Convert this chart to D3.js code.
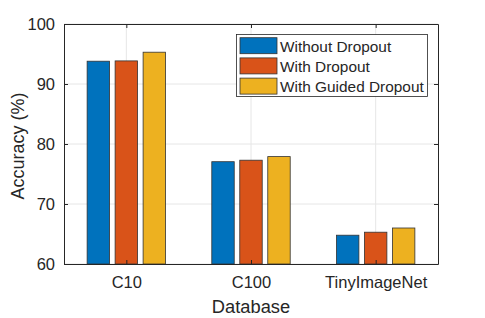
<!DOCTYPE html>
<html>
<head>
<meta charset="utf-8">
<script src="https://cdn.jsdelivr.net/npm/d3@7"></script>
<style>
  body { margin: 0; background: #fff; }
  text { font-family: "Liberation Sans", Arial, Helvetica, sans-serif; fill: #262626; }
</style>
</head>
<body>
<div id="chart"></div>
<script>
var categories = ["C10", "C100", "TinyImageNet"];
var seriesNames = ["Without Dropout", "With Dropout", "With Guided Dropout"];
var withoutDropout = [93.8, 77.05, 64.8];
var withDropout = [93.85, 77.3, 65.3];
var guidedDropout = [95.3, 77.9, 66.0];
var yTicks = [60, 70, 80, 90, 100];
var colors = ["#0072BD", "#D95319", "#EDB120"];

var series = [withoutDropout, withDropout, guidedDropout];

var W = 485, H = 318;
var axL = 64, axR = 438, axT = 24, axB = 264;

var svg = d3.select("#chart").append("svg")
  .attr("width", W).attr("height", H);

var x = d3.scaleLinear().domain([0.5, 3.5]).range([axL, axR]);
var y = d3.scaleLinear().domain([60, 100]).range([axB, axT]);

// grid
var grid = svg.append("g");
grid.selectAll(".gy").data(yTicks).enter().append("line")
  .attr("x1", axL).attr("x2", axR)
  .attr("y1", function(d){ return y(d); }).attr("y2", function(d){ return y(d); })
  .style("stroke", "#e6e6e6").style("stroke-width", 1);
grid.selectAll(".gx").data(categories).enter().append("line")
  .attr("x1", function(d,i){ return x(i+1); }).attr("x2", function(d,i){ return x(i+1); })
  .attr("y1", axT).attr("y2", axB)
  .style("stroke", "#e6e6e6").style("stroke-width", 1);

// bars
var offset = 0.2245, barW = 0.18;
series.forEach(function(vals, s) {
  svg.append("g").selectAll("rect").data(vals).enter().append("rect")
    .attr("x", function(d,i){ return x(i + 1 + (s-1)*offset - barW/2); })
    .attr("width", function(){ return x(1 + barW) - x(1); })
    .attr("y", function(d){ return y(d); })
    .attr("height", function(d){ return y(60) - y(d); })
    .style("fill", colors[s])
    .style("stroke", "#333").style("stroke-width", 0.8);
});

// axes box
var yAxis = d3.axisLeft(y).tickValues(yTicks).tickSizeInner(-4).tickSizeOuter(0).tickPadding(9);
var xAxis = d3.axisBottom(x).tickValues([1,2,3]).tickSizeInner(-4).tickSizeOuter(0).tickPadding(12)
  .tickFormat(function(d,i){ return categories[i]; });

var ya = svg.append("g").attr("transform", "translate(" + axL + ",0)").call(yAxis);
var xa = svg.append("g").attr("transform", "translate(0," + axB + ")").call(xAxis);
var yr = svg.append("g").attr("transform", "translate(" + axR + ",0)")
  .call(d3.axisRight(y).tickValues(yTicks).tickSizeInner(-4).tickSizeOuter(0).tickFormat(""));
var xt = svg.append("g").attr("transform", "translate(0," + axT + ")")
  .call(d3.axisTop(x).tickValues([1,2,3]).tickSizeInner(-4).tickSizeOuter(0).tickFormat(""));

[ya, xa, yr, xt].forEach(function(g) {
  g.selectAll("path, line").style("stroke", "#262626").style("stroke-width", 1);
  g.selectAll("text").style("font-size", "16.5px").style("fill", "#262626")
    .style("font-family", "'Liberation Sans', Arial, sans-serif");
});

// labels
svg.append("text")
  .attr("transform", "translate(24,146) rotate(-90)")
  .attr("text-anchor", "middle")
  .style("font-size", "18px")
  .text("Accuracy (%)");
svg.append("text")
  .attr("x", 251).attr("y", 313)
  .attr("text-anchor", "middle")
  .style("font-size", "18.3px")
  .text("Database");

// legend
var lg = svg.append("g");
lg.append("rect")
  .attr("x", 236.5).attr("y", 34.5).attr("width", 191).attr("height", 62)
  .style("fill", "#fff").style("stroke", "#262626").style("stroke-width", 0.8);
seriesNames.forEach(function(name, i) {
  var cy = 45.7 + i * 20.2;
  lg.append("rect")
    .attr("x", 240).attr("y", cy - 8).attr("width", 37).attr("height", 16)
    .style("fill", colors[i]).style("stroke", "#333").style("stroke-width", 0.8);
  lg.append("text")
    .attr("x", 280).attr("y", cy + 6)
    .style("font-size", "15.4px")
    .text(name);
});
</script>
</body>
</html>
